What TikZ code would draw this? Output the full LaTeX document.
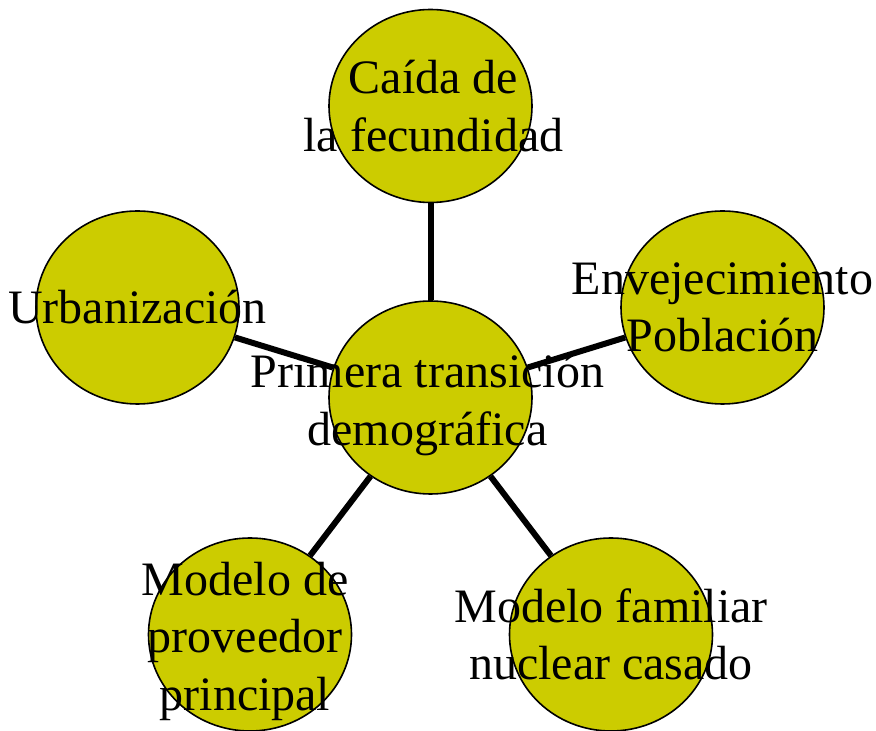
\documentclass[tikz,border=0pt]{standalone}
\usepackage{fontspec}
\setmainfont{Liberation Serif}
\usetikzlibrary{shapes.geometric}
\definecolor{bubblefill}{HTML}{CCCC00}
\begin{document}
\begin{tikzpicture}[x=1pt, y=1pt,
  bubble/.style={ellipse, draw, line width=1.6pt, fill=bubblefill, minimum width=203pt, minimum height=193pt, inner sep=0pt},
  txt/.style={align=center, inner sep=0pt, font=\fontsize{48}{57.5}\selectfont},
  link/.style={line width=6pt}]
\useasboundingbox (0,0) rectangle (876,731);
\node[bubble] (centro) at (430.5,333.5){};
\node[bubble] (caida) at (430.5,625){};
\node[bubble] (urban) at (137.5,423.5){};
\node[bubble] (envej) at (722.5,423.5){};
\node[bubble] (prov) at (250,96.5){};
\node[bubble] (nucl) at (611,96.5){};
\draw[link](centro) -- (caida);
\draw[link](centro) -- (urban);
\draw[link](centro) -- (envej);
\draw[link](centro) -- (prov);
\draw[link](centro) -- (nucl);
\node[txt] (centro-t) at (427.5,326){Primera transición\\demográfica};
\node[txt] (caida-t) at (433.5,625){Caída de\\la fecundidad};
\node[txt] (urban-t) at (urban){Urbanización};
\node[txt] (envej-t) at (envej){Envejecimiento\\Población};
\node[txt] (prov-t) at (245,90){Modelo de\\proveedor\\principal};
\node[txt] (nucl-t) at (nucl){Modelo familiar\\nuclear casado};
\end{tikzpicture}
\end{document}
